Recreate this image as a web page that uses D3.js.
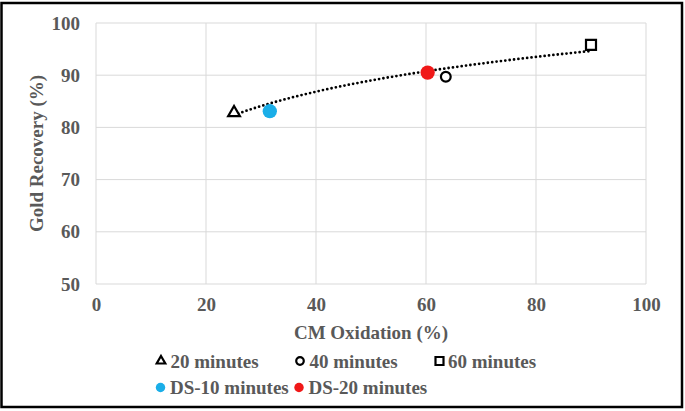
<!DOCTYPE html>
<html><head><meta charset="utf-8">
<script src="https://cdn.jsdelivr.net/npm/d3@7"></script>
<style>html,body{margin:0;padding:0;background:#fff;}</style></head>
<body><svg id="chart" width="685" height="411"></svg>
<script>
// Data
const seriesNames = ["20 minutes","40 minutes","60 minutes","DS-10 minutes","DS-20 minutes"];
const oxidation   = [25.1, 63.6, 90.0, 31.6, 60.3];   // CM Oxidation (%)
const recovery    = [82.8, 89.7, 95.8, 83.1, 90.5];   // Gold Recovery (%)
const xTicks = [0,20,40,60,80,100];
const yTicks = [50,60,70,80,90,100];
const trendIdx = [0,1,2]; // logarithmic trendline over the timed series

const FONT = '"Liberation Serif", "Times New Roman", serif';
const FS = 19, TXT = "#595959";
const style = sel => sel.attr("font-family",FONT).attr("font-weight","bold")
  .attr("font-size",FS).attr("fill",TXT);

const svg = d3.select("#chart");
const W = 685, H = 411;
const m = {l:96, r:685-646, t:23, b:411-284};
const x = d3.scaleLinear().domain([0,100]).range([m.l, W-m.r]);
const y = d3.scaleLinear().domain([50,100]).range([H-m.b, m.t]);

// outer border
svg.append("rect").attr("x",1.5).attr("y",3).attr("width",680.5).attr("height",404)
  .attr("fill","none").attr("stroke","#000").attr("stroke-width",2.5);

// gridlines
const g = svg.append("g");
g.selectAll(".vg").data(xTicks).join("line")
  .attr("x1",d=>x(d)).attr("x2",d=>x(d)).attr("y1",y(50)).attr("y2",y(100))
  .attr("stroke","#d9d9d9").attr("stroke-width",1);
g.selectAll(".hg").data(yTicks).join("line")
  .attr("y1",d=>y(d)).attr("y2",d=>y(d)).attr("x1",x(0)).attr("x2",x(100))
  .attr("stroke","#d9d9d9").attr("stroke-width",1);

// axes (labels only)
const xAxis = svg.append("g").attr("transform",`translate(0,${y(50)})`)
  .call(d3.axisBottom(x).tickValues(xTicks).tickSize(0).tickPadding(14));
xAxis.select(".domain").remove();
xAxis.attr("font-family",null).attr("font-size",null);
style(xAxis.selectAll("text"));
const yAxis = svg.append("g").attr("transform",`translate(${x(0)},0)`)
  .call(d3.axisLeft(y).tickValues(yTicks).tickSize(0).tickPadding(16));
yAxis.select(".domain").remove();
yAxis.attr("font-family",null).attr("font-size",null);
style(yAxis.selectAll("text"));

// axis titles
svg.append("text").attr("x",(x(0)+x(100))/2).attr("y",339).attr("text-anchor","middle")
  .call(style).text("CM Oxidation (%)");
svg.append("text").attr("transform",`translate(43,${(y(50)+y(100))/2}) rotate(-90)`)
  .attr("text-anchor","middle").call(style).text("Gold Recovery (%)");

// logarithmic trendline computed from the timed points
const tx = trendIdx.map(i=>Math.log(oxidation[i])), ty = trendIdx.map(i=>recovery[i]);
const mx = d3.mean(tx), my = d3.mean(ty);
const b = d3.sum(tx.map((v,i)=>(v-mx)*(ty[i]-my))) / d3.sum(tx.map(v=>(v-mx)*(v-mx)));
const a = my - b*mx;
const xmin = d3.min(trendIdx, i=>oxidation[i]), xmax = d3.max(trendIdx, i=>oxidation[i]);
const tpts = d3.range(0,61).map(k=>{const xv = xmin + (xmax-xmin)*k/60; return [xv, a + b*Math.log(xv)];});
svg.append("path").datum(tpts)
  .attr("d", d3.line().x(d=>x(d[0])).y(d=>y(d[1])))
  .attr("fill","none").attr("stroke","#000").attr("stroke-width",2.8)
  .attr("stroke-dasharray","0 4.4").attr("stroke-linecap","round");

// markers
const sym = [
  {type:d3.symbolTriangle, size:60, fill:"#fff", stroke:"#000"},
  {type:d3.symbolCircle, size:75, fill:"#fff", stroke:"#000"},
  {type:d3.symbolSquare, size:100, fill:"#fff", stroke:"#000"},
  {type:d3.symbolCircle, size:160, fill:"#1aaee8", stroke:"none"},
  {type:d3.symbolCircle, size:160, fill:"#f01818", stroke:"none"}
];
const pts = seriesNames.map((n,i)=>({name:n, x:oxidation[i], y:recovery[i], s:sym[i]}));
svg.selectAll(".pt").data(pts).join("path")
  .attr("transform",d=>`translate(${x(d.x)},${y(d.y)})`)
  .attr("d",d=>d3.symbol(d.s.type,d.s.size)())
  .attr("fill",d=>d.s.fill).attr("stroke",d=>d.s.stroke).attr("stroke-width",2.2);

// legend
const legPos = [[161,361],[300,361],[439.5,361],[160.5,387.5],[299,387.5]];
const leg = svg.selectAll(".leg").data(pts).join("g")
  .attr("transform",(d,i)=>`translate(${legPos[i][0]},${legPos[i][1]})`);
const legSym = [
  {type:d3.symbolTriangle, size:32, fill:"#fff", stroke:"#000"},
  {type:d3.symbolCircle, size:45, fill:"#fff", stroke:"#000"},
  {type:d3.symbolSquare, size:64, fill:"#fff", stroke:"#000"},
  {type:d3.symbolCircle, size:70, fill:"#1aaee8", stroke:"none"},
  {type:d3.symbolCircle, size:70, fill:"#f01818", stroke:"none"}
];
leg.append("path").attr("d",(d,i)=>d3.symbol(legSym[i].type,legSym[i].size)())
  .attr("fill",(d,i)=>legSym[i].fill).attr("stroke",(d,i)=>legSym[i].stroke).attr("stroke-width",2.2);
leg.append("text").attr("x",(d,i)=>i===2?8.5:9.5).attr("y",6.5).call(style).text(d=>d.name);
</script></body></html>
